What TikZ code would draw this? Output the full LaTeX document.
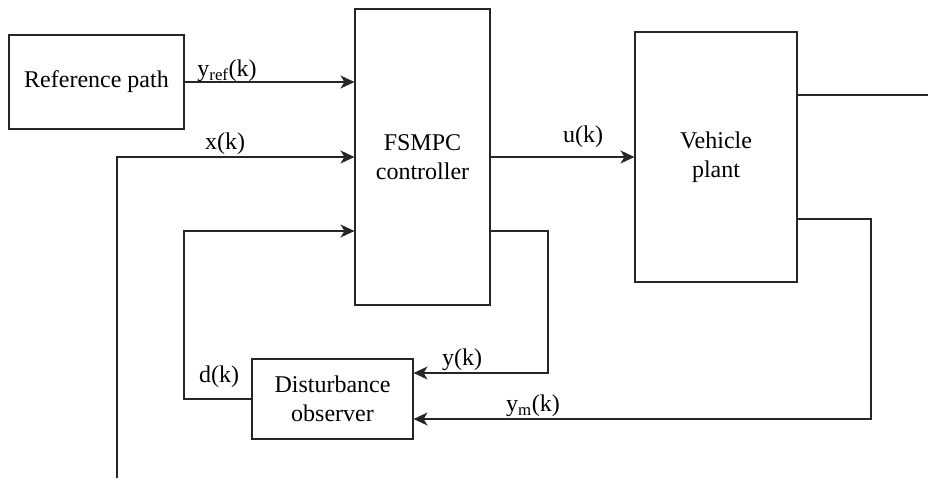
\documentclass[tikz,border=0pt]{standalone}
\usepackage{fontspec}
\setmainfont{Liberation Serif}
\usetikzlibrary{arrows.meta}
\begin{document}
\begin{tikzpicture}[x=1pt,y=-1pt,
  blk/.style={draw=black!85, line width=1.1pt, rectangle, inner sep=0pt, align=center, font=\fontsize{24}{29}\selectfont},
  lbl/.style={inner sep=0pt, font=\fontsize{24}{28}\selectfont},
  wire/.style={draw=black!85, line width=1.1pt},
  arr/.style={wire, -{Stealth[length=14pt,width=13pt,inset=4pt]}}]
\useasboundingbox (0,0) rectangle (928,479);
\node[blk, minimum width=175pt, minimum height=94pt] (ref) at (96.5,82) {Reference path};
\node[blk, minimum width=135pt, minimum height=296pt] (fsmpc) at (422.5,157) {FSMPC\\controller};
\node[blk, minimum width=162pt, minimum height=250pt] (plant) at (716,157) {Vehicle\\plant};
\node[blk, minimum width=161pt, minimum height=80pt] (dist) at (332.5,399) {Disturbance\\observer};
\coordinate (xin) at (117,478);
\coordinate (dc) at (184,231);
\coordinate (yc) at (548,373);
\coordinate (pm) at (871,219);
\coordinate (ymc) at (871,419);
\coordinate (out) at (928,95);
\draw[arr] (ref.east) -- (fsmpc.west |- ref.east);
\draw[arr] (xin) |- (fsmpc.west);
\draw[arr] (dist.west) -| (dc) -- (fsmpc.west |- dc);
\draw[arr] (fsmpc.east) -- (plant.west);
\draw[arr] (fsmpc.east |- dc) -| (yc) -- (dist.east |- yc);
\draw[arr] (plant.east |- pm) -| (ymc) -- (dist.east |- ymc);
\draw[wire] (plant.east |- out) -- (out);
\node[lbl] (lyref) at (227,71) {y\textsubscript{ref}(k)};
\node[lbl] (lx) at (225,144) {x(k)};
\node[lbl] (lu) at (583,137) {u(k)};
\node[lbl] (ly) at (462,360) {y(k)};
\node[lbl] (lym) at (533,406) {y\textsubscript{m}(k)};
\node[lbl] (ld) at (219,377) {d(k)};
\end{tikzpicture}
\end{document}
